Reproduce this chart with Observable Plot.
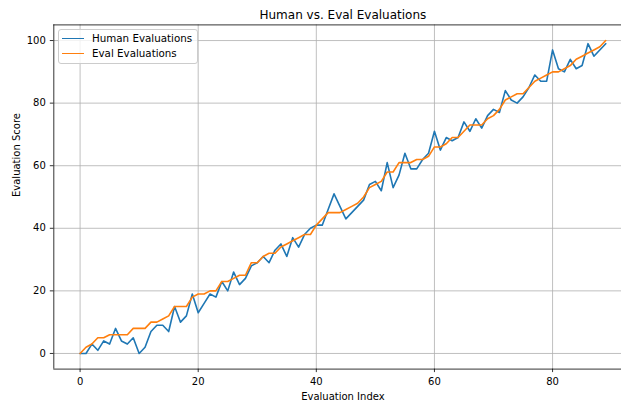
<!DOCTYPE html>
<html>
<head>
<meta charset="utf-8">
<script src="https://cdn.jsdelivr.net/npm/d3@7"></script>
<script src="https://cdn.jsdelivr.net/npm/@observablehq/plot@0.6"></script>
<style>
  html, body { margin: 0; padding: 0; background: #fff; }
  #wrap { position: relative; width: 621px; height: 400px; overflow: hidden; font-family: "DejaVu Sans", sans-serif; }
  #wrap svg { display: block; }
  .legend { position: absolute; left: 58px; top: 29px; width: 138px; height: 33px;
    border: 1px solid #cccccc; border-radius: 3px; background: rgba(255,255,255,0.8);
    font-size: 10.3px; color: #000; }
  .legend .row { position: absolute; left: 0; height: 14px; }
  .legend .sw { position: absolute; left: 3px; width: 22px; height: 0; border-top: 1.6px solid; }
  .legend .lab { position: absolute; left: 33px; white-space: nowrap; line-height: 14px; }
</style>
</head>
<body>
<div id="wrap"></div>
<script>
const title = "Human vs. Eval Evaluations";
const xLabel = "Evaluation Index";
const yLabel = "Evaluation Score";
const seriesNames = ["Human Evaluations", "Eval Evaluations"];
const seriesColors = ["#1f77b4", "#ff7f0e"];
const xTicks = [0, 20, 40, 60, 80];
const yTicks = [0, 20, 40, 60, 80, 100];
const xDomain = [-4.45, 93.45];
const yDomain = [-5, 105];

const human = [0, 0, 3, 1, 4, 3, 8, 4, 3, 5,
  0, 2, 7, 9, 9, 7, 15, 10, 12, 19,
  13, 16, 19, 18, 23, 20, 26, 22, 24, 28,
  29, 31, 29, 33, 35, 31, 37, 34, 38, 40,
  41, 41, 46, 51, 47, 43, 45, 47, 49, 54,
  55, 52, 61, 53, 57, 64, 59, 59, 62, 64,
  71, 65, 69, 68, 69, 74, 71, 75, 72, 76,
  78, 77, 84, 81, 80, 82, 85, 89, 87, 87,
  97, 91, 90, 94, 91, 92, 99, 95, 97, 99];

const evalScores = [0, 2, 3, 5, 5, 6, 6, 6, 6, 8,
  8, 8, 10, 10, 11, 12, 15, 15, 15, 18,
  19, 19, 20, 20, 23, 23, 24, 25, 25, 29,
  29, 31, 32, 32, 34, 35, 36, 37, 38, 38,
  41, 43, 45, 45, 45, 46, 47, 48, 50, 53,
  54, 55, 58, 58, 61, 61, 61, 62, 62, 63,
  66, 66, 67, 69, 69, 71, 73, 73, 73, 75,
  76, 78, 81, 82, 83, 83, 85, 87, 88, 89,
  90, 90, 91, 92, 94, 95, 96, 97, 98, 100];

const rows = [];
human.forEach((v, i) => rows.push({i, v, s: seriesNames[0]}));
evalScores.forEach((v, i) => rows.push({i, v, s: seriesNames[1]}));

const chart = Plot.plot({
  width: 621,
  height: 400,
  marginLeft: 53.3,
  marginRight: -10.5,
  marginTop: 24.4,
  marginBottom: 31.4,
  style: {fontFamily: "DejaVu Sans", fontSize: "10px", color: "#000", background: "#fff", overflow: "hidden"},
  x: {domain: xDomain},
  y: {domain: yDomain},
  color: {domain: seriesNames, range: seriesColors},
  marks: [
    Plot.gridX(xTicks, {stroke: "#b0b0b0", strokeOpacity: 1, strokeWidth: 0.8}),
    Plot.gridY(yTicks, {stroke: "#b0b0b0", strokeOpacity: 1, strokeWidth: 0.8}),
    Plot.line(rows, {x: "i", y: "v", stroke: "s", z: "s", strokeWidth: 1.6}),
    Plot.ruleX([xDomain[0]], {stroke: "#000", strokeWidth: 0.8}),
    Plot.ruleY(yDomain, {stroke: "#000", strokeWidth: 0.8}),
    Plot.axisX(xTicks, {tickSize: 3.5, tickPadding: 5, label: null, stroke: "#000", strokeWidth: 0.8}),
    Plot.axisY(yTicks, {tickSize: 3.5, tickPadding: 4.5, label: null, stroke: "#000", strokeWidth: 0.8}),
    Plot.text([title], {frameAnchor: "top", lineAnchor: "bottom", dy: -6.4, fontSize: 12}),
    Plot.text([xLabel], {frameAnchor: "bottom", lineAnchor: "bottom", dy: 30.4, fontSize: 10}),
    Plot.text([yLabel], {frameAnchor: "left", lineAnchor: "bottom", rotate: -90, dx: -34.3, fontSize: 10})
  ]
});

const wrap = document.getElementById("wrap");
wrap.appendChild(chart);

const legend = document.createElement("div");
legend.className = "legend";
seriesNames.forEach((name, k) => {
  const row = document.createElement("div");
  row.className = "row";
  row.style.top = (1 + k * 15.4) + "px";
  const sw = document.createElement("div");
  sw.className = "sw";
  sw.style.top = "7px";
  sw.style.borderColor = seriesColors[k];
  const lab = document.createElement("div");
  lab.className = "lab";
  lab.style.top = "0px";
  lab.textContent = name;
  row.appendChild(sw);
  row.appendChild(lab);
  legend.appendChild(row);
});
wrap.appendChild(legend);
</script>
</body>
</html>
